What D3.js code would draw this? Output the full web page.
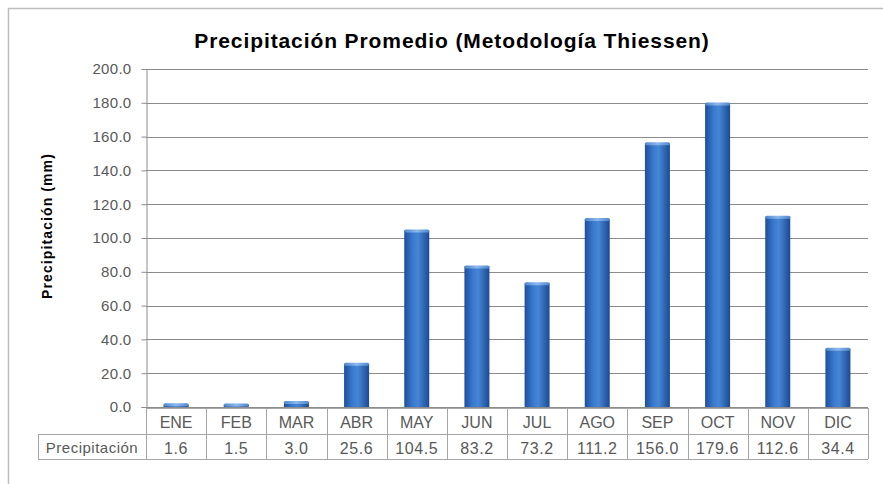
<!DOCTYPE html>
<html><head><meta charset="utf-8">
<script src="https://cdn.jsdelivr.net/npm/d3@7"></script>
<style>
body{margin:0;background:#fff;}
svg{display:block;font-family:"Liberation Sans",Arial,sans-serif;}
</style></head>
<body><svg id="chart" width="883" height="484"></svg>
<script>
const months = ["ENE","FEB","MAR","ABR","MAY","JUN","JUL","AGO","SEP","OCT","NOV","DIC"];
const precip = [1.6,1.5,3.0,25.6,104.5,83.2,73.2,111.2,156.0,179.6,112.6,34.4];
const yTicks = [0,20,40,60,80,100,120,140,160,180,200];
const title = "Precipitación Promedio (Metodología Thiessen)";
const yLabel = "Precipitación (mm)";
const rowLabel = "Precipitación";

const svg = d3.select("#chart");
const L = 146, R = 868, T = 69, B = 407;
const x = d3.scaleBand().domain(months).range([L, R]).paddingInner(0).paddingOuter(0);
const y = d3.scaleLinear().domain([0, 200]).range([B, T]);

// outer chart border (top + left visible)
svg.append("path").attr("d","M8.5,484 L8.5,8.5 L883,8.5").attr("fill","none").attr("stroke","#bdbdbd").attr("stroke-width",1.5);

// gradient
const defs = svg.append("defs");
const g = defs.append("linearGradient").attr("id","barGrad").attr("x1","0").attr("x2","1").attr("y1","0").attr("y2","0");
g.append("stop").attr("offset","0%").attr("stop-color","#1d4f9c");
g.append("stop").attr("offset","35%").attr("stop-color","#3b7bcf");
g.append("stop").attr("offset","55%").attr("stop-color","#4686d5");
g.append("stop").attr("offset","100%").attr("stop-color","#1b4a94");
const gt = defs.append("linearGradient").attr("id","capGrad").attr("x1","0").attr("x2","1").attr("y1","0").attr("y2","0");
gt.append("stop").attr("offset","0%").attr("stop-color","#4f86cc");
gt.append("stop").attr("offset","50%").attr("stop-color","#8db8ee");
gt.append("stop").attr("offset","100%").attr("stop-color","#4f86cc");

// title
svg.append("text").attr("x",452).attr("y",48).attr("text-anchor","middle")
  .attr("font-size",21).attr("font-weight","bold").attr("letter-spacing",0.9).attr("fill","#000").text(title);

// gridlines
svg.append("g").selectAll("line").data(yTicks.filter(d=>d>0)).join("line")
  .attr("x1",L).attr("x2",R).attr("y1",d=>Math.round(y(d))+0.5).attr("y2",d=>Math.round(y(d))+0.5)
  .attr("stroke","#8c8c8c").attr("stroke-width",1);

// y axis
const yAxis = d3.axisLeft(y).tickValues(yTicks).tickFormat(d3.format(".1f")).tickSize(5).tickPadding(10);
const ya = svg.append("g").attr("transform",`translate(${L+0.5},0)`).call(yAxis);
ya.select(".domain").attr("stroke","#8c8c8c");
ya.selectAll(".tick line").attr("stroke","#8c8c8c");
ya.selectAll(".tick text").attr("fill","#595959").attr("font-size",15).attr("letter-spacing",0.3)
  .attr("font-family","Liberation Sans, Arial, sans-serif");

// y label
svg.append("text").attr("transform",`translate(52,226) rotate(-90)`).attr("text-anchor","middle")
  .attr("font-size",14).attr("font-weight","bold").attr("letter-spacing",1.1).attr("fill","#000").text(yLabel);

// bars
const bw = 25;
const bars = svg.append("g").selectAll("g").data(months.map((m,i)=>({m,v:precip[i]}))).join("g");
bars.append("rect").attr("x",d=>x(d.m)+x.bandwidth()/2-bw/2).attr("width",bw)
  .attr("y",d=>y(d.v)).attr("height",d=>B-y(d.v)).attr("fill","url(#barGrad)");
bars.append("rect").attr("x",d=>x(d.m)+x.bandwidth()/2-bw/2).attr("width",bw)
  .attr("y",d=>y(d.v)-1).attr("height",3).attr("rx",1.5).attr("fill","url(#capGrad)");

// table
const rowTop = 408, rowMid = 434, rowBot = 459, tblLeft = 38;
const tbl = svg.append("g").attr("stroke","#a6a6a6").attr("stroke-width",1).attr("fill","none");
tbl.append("line").attr("x1",L).attr("x2",R).attr("y1",rowTop+0.5).attr("y2",rowTop+0.5);
tbl.append("line").attr("x1",tblLeft).attr("x2",R).attr("y1",rowMid+0.5).attr("y2",rowMid+0.5);
tbl.append("line").attr("x1",tblLeft).attr("x2",R).attr("y1",rowBot+0.5).attr("y2",rowBot+0.5);
tbl.append("line").attr("x1",tblLeft+0.5).attr("x2",tblLeft+0.5).attr("y1",rowMid).attr("y2",rowBot);
tbl.selectAll("line.v").data(months.concat(["__end"])).join("line").attr("class","v")
  .attr("x1",d=>Math.round(d==="__end"?R:x(d))+0.5).attr("x2",d=>Math.round(d==="__end"?R:x(d))+0.5)
  .attr("y1",rowTop).attr("y2",rowBot);

// axis line at zero
svg.append("line").attr("x1",L).attr("x2",R).attr("y1",B+0.5).attr("y2",B+0.5).attr("stroke","#8c8c8c");

svg.append("g").selectAll("text").data(months).join("text")
  .attr("x",d=>x(d)+x.bandwidth()/2).attr("y",rowTop+20).attr("text-anchor","middle")
  .attr("font-size",16).attr("fill","#595959").text(d=>d);
svg.append("g").selectAll("text").data(precip).join("text")
  .attr("x",(d,i)=>x(months[i])+x.bandwidth()/2).attr("y",rowMid+20).attr("text-anchor","middle")
  .attr("font-size",16).attr("letter-spacing",0.6).attr("fill","#595959").text(d=>d3.format(".1f")(d));
svg.append("text").attr("x",(tblLeft+L)/2).attr("y",rowMid+19).attr("text-anchor","middle")
  .attr("font-size",15).attr("letter-spacing",0.5).attr("fill","#595959").text(rowLabel);
</script></body></html>
